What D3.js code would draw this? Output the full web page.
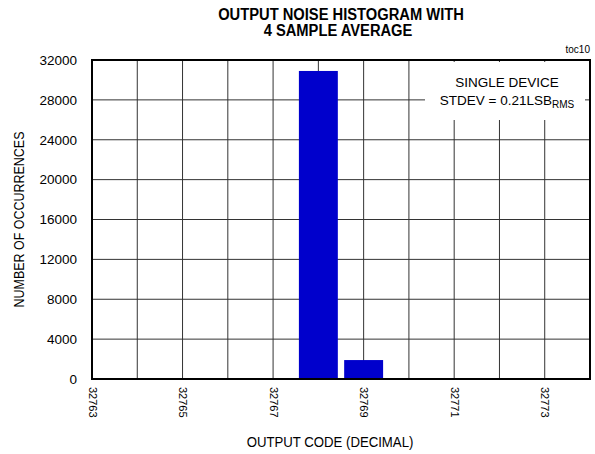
<!DOCTYPE html>
<html lang="en">
<head>
    <meta charset="UTF-8">
    <title>Output Noise Histogram</title>
    <script src="https://d3js.org/d3.v7.min.js"></script>
    <style>
        body { margin: 0; background: #fff; }
        svg text { font-family: "Liberation Sans", Arial, sans-serif; fill: #000; }
        .grid line { stroke: #333; stroke-width: 1; }
        .tick-y text { font-size: 13.5px; }
        .tick-x text { font-size: 11px; }
    </style>
</head>
<body>
    <svg width="595" height="454"></svg>

    <script>
        // histogram data
        const codes = [32767, 32768, 32769];
        const counts = [70, 30900, 1900];

        const xTicks = [32763, 32765, 32767, 32769, 32771, 32773];
        const yTicks = [0, 4000, 8000, 12000, 16000, 20000, 24000, 28000, 32000];

        const margin = { top: 60, right: 5, bottom: 75, left: 92 };
        const width = 595 - margin.left - margin.right;   // 498
        const height = 454 - margin.top - margin.bottom;  // 319

        const svg = d3.select("svg");
        const g = svg.append("g")
            .attr("transform", `translate(${margin.left}, ${margin.top})`);

        const x = d3.scaleLinear()
            .domain([32763, 32774])
            .range([0, width]);

        const y = d3.scaleLinear()
            .domain([0, 32000])
            .range([height, 0]);

        // grid
        g.append("g")
            .attr("class", "grid")
            .selectAll("line.v")
            .data(d3.range(32764, 32774))
            .enter().append("line")
            .attr("x1", d => x(d)).attr("x2", d => x(d))
            .attr("y1", 0).attr("y2", height);

        g.append("g")
            .attr("class", "grid")
            .selectAll("line.h")
            .data(yTicks.slice(1, -1))
            .enter().append("line")
            .attr("x1", 0).attr("x2", width)
            .attr("y1", d => y(d)).attr("y2", d => y(d));

        // bars
        const step = x(1) - x(0);
        const bw = step * 0.86;
        g.selectAll(".bar")
            .data(codes)
            .enter().append("rect")
            .attr("class", "bar")
            .attr("x", (d) => x(d) - bw / 2)
            .attr("y", (d, i) => y(counts[i]))
            .attr("width", bw)
            .attr("height", (d, i) => height - y(counts[i]))
            .attr("fill", "#0000cc");

        // annotation box (blanks the grid behind it)
        g.append("rect")
            .attr("x", 333).attr("y", 2)
            .attr("width", 160).attr("height", 58)
            .attr("fill", "#fff");

        const note = g.append("text")
            .attr("text-anchor", "middle")
            .attr("font-size", "13.5px");
        note.append("tspan").attr("x", 415).attr("y", 27).text("SINGLE DEVICE");
        const l2 = note.append("tspan").attr("x", 415).attr("y", 45);
        l2.append("tspan").text("STDEV = 0.21LSB");
        l2.append("tspan").attr("dy", 3).attr("font-size", "10px").text("RMS");

        // frame
        g.append("rect")
            .attr("width", width).attr("height", height)
            .attr("fill", "none")
            .attr("stroke", "#000")
            .attr("stroke-width", 2);

        // y axis
        const yAxis = d3.axisLeft(y).tickValues(yTicks).tickSize(0).tickPadding(15)
            .tickFormat(d3.format("d"));
        g.append("g")
            .attr("class", "tick-y")
            .call(yAxis)
            .call(s => s.select(".domain").remove());

        // x axis, rotated labels
        const xAxis = d3.axisBottom(x).tickValues(xTicks).tickSize(0).tickFormat(d3.format("d"));
        g.append("g")
            .attr("class", "tick-x")
            .attr("transform", `translate(0, ${height})`)
            .call(xAxis)
            .call(s => s.select(".domain").remove())
            .selectAll("text")
            .attr("transform", "rotate(90)")
            .attr("x", 8)
            .attr("y", 0)
            .attr("dy", "0.35em")
            .style("text-anchor", "start");

        // titles (narrowed a bit to mimic a condensed face)
        svg.append("text")
            .attr("transform", "translate(341, 20) scale(0.92, 1)")
            .attr("text-anchor", "middle")
            .attr("font-size", "16px")
            .attr("font-weight", "bold")
            .text("OUTPUT NOISE HISTOGRAM WITH");
        svg.append("text")
            .attr("transform", "translate(338, 36) scale(0.92, 1)")
            .attr("text-anchor", "middle")
            .attr("font-size", "16px")
            .attr("font-weight", "bold")
            .text("4 SAMPLE AVERAGE");

        svg.append("text")
            .attr("x", 590).attr("y", 53)
            .attr("text-anchor", "end")
            .attr("font-size", "10px")
            .text("toc10");

        svg.append("text")
            .attr("transform", "translate(330, 447) scale(0.88, 1)")
            .attr("text-anchor", "middle")
            .attr("font-size", "15px")
            .text("OUTPUT CODE (DECIMAL)");

        svg.append("text")
            .attr("transform", "translate(24, 219.5) rotate(-90) scale(0.86, 1)")
            .attr("text-anchor", "middle")
            .attr("font-size", "14.5px")
            .text("NUMBER OF OCCURRENCES");
    </script>
</body>
</html>
